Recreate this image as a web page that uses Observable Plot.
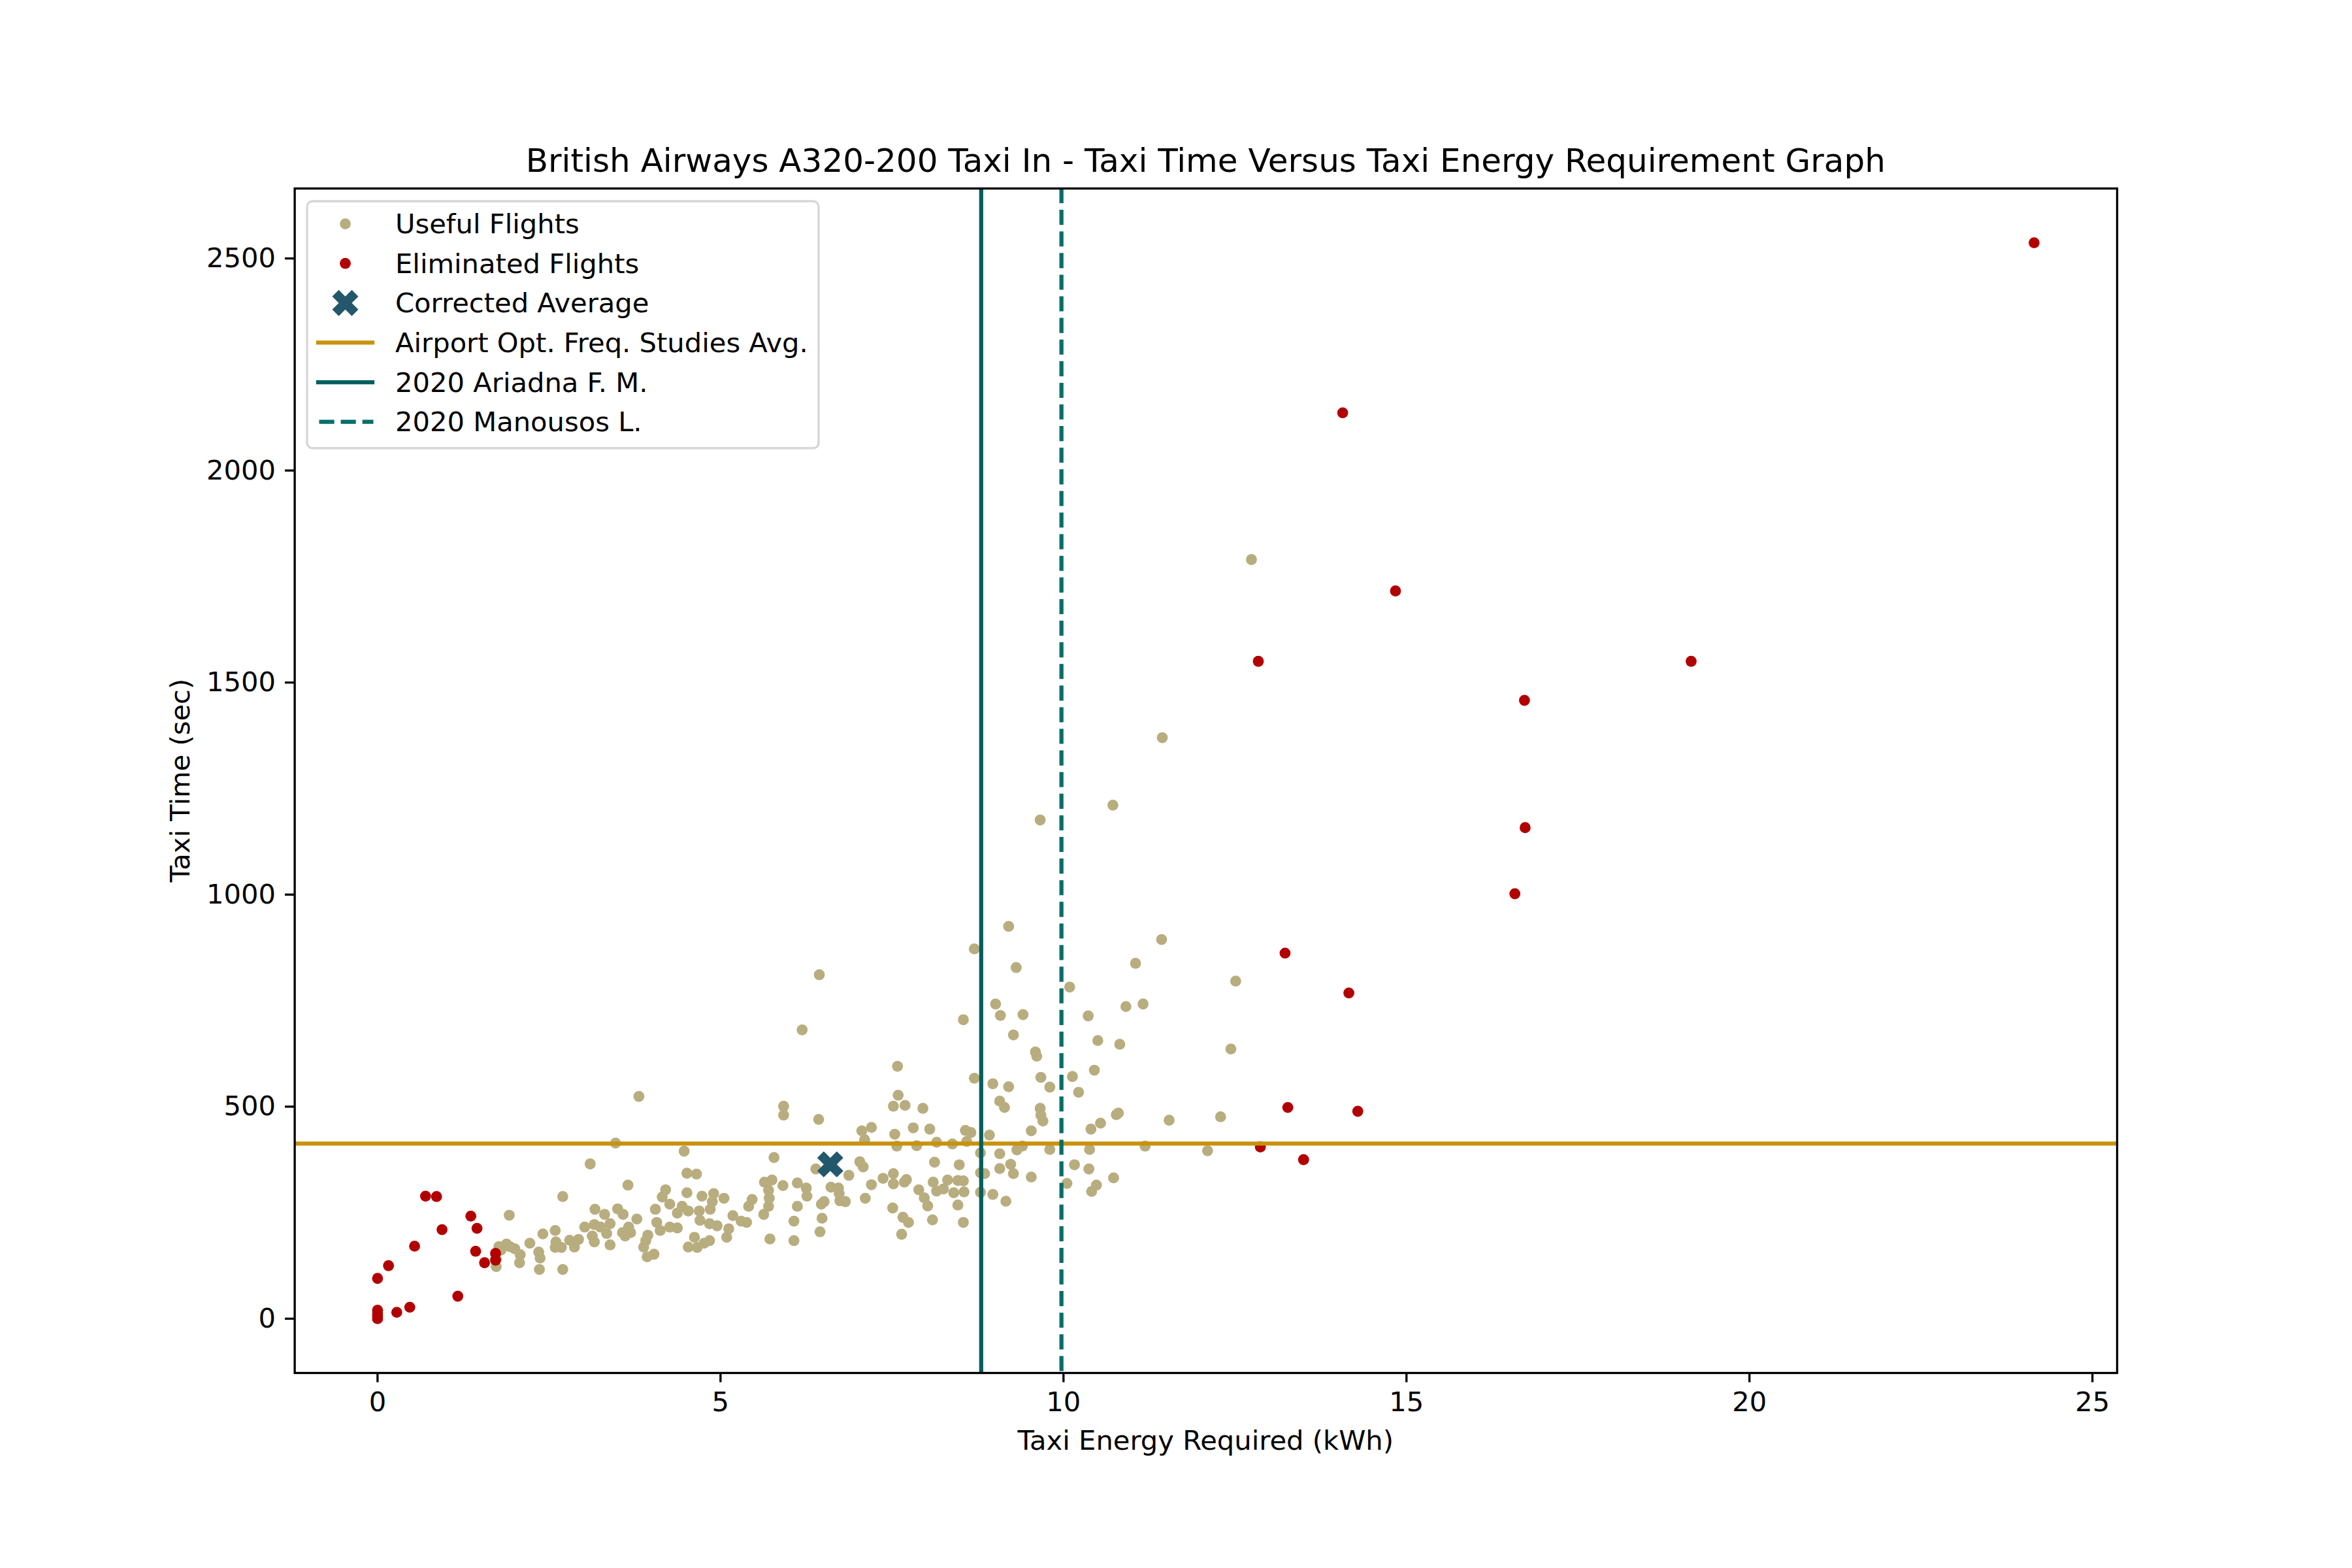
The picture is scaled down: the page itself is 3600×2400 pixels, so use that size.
<!DOCTYPE html>
<html>
<head>
<meta charset="utf-8">
<script src="https://cdn.jsdelivr.net/npm/d3@7"></script>
<script src="https://cdn.jsdelivr.net/npm/@observablehq/plot@0.6"></script>
<style>
  html, body { margin: 0; padding: 0; background: #ffffff; }
  #chart svg { display: block; }
</style>
</head>
<body>
<div id="chart"></div>
<script>
// ---------------- data ----------------
const titleText = "British Airways A320-200 Taxi In - Taxi Time Versus Taxi Energy Requirement Graph";
const xLabel = "Taxi Energy Required (kWh)";
const yLabel = "Taxi Time (sec)";
const xTicks = [0, 5, 10, 15, 20, 25];
const yTicks = [0, 500, 1000, 1500, 2000, 2500];
const legendLabels = ["Useful Flights", "Eliminated Flights", "Corrected Average",
  "Airport Opt. Freq. Studies Avg.", "2020 Ariadna F. M.", "2020 Manousos L."];

const usefulEnergy = [
  3.81,3.47,3.10,3.65,2.70,1.92,4.47,4.51,4.65,4.51,4.20,4.15,4.26,4.05,3.78,3.50,3.58,3.31,3.17,3.02,
  3.16,3.25,3.39,3.34,3.13,3.16,3.39,3.66,3.57,3.61,3.69,3.94,3.91,3.88,4.03,3.93,4.07,4.12,4.26,4.37,
  4.37,4.44,4.53,4.69,4.70,4.84,4.95,4.73,4.90,4.88,5.05,4.85,5.18,5.30,5.38,5.12,5.09,4.62,4.84,4.76,
  4.66,4.53,5.41,5.46,5.63,5.70,5.71,5.70,5.64,5.75,5.78,5.92,5.92,6.43,5.91,5.72,6.07,6.07,6.12,6.12,
  6.25,6.26,6.39,6.48,6.45,6.47,6.51,6.61,6.72,6.73,6.74,6.82,6.87,7.03,7.08,7.06,7.10,7.20,7.11,7.20,
  1.73,1.77,1.80,1.88,1.93,2.00,2.08,2.07,2.22,2.35,2.37,2.36,2.41,2.59,2.60,2.59,2.68,2.70,2.80,2.87,
  2.93,1.73,6.44,6.19,
  7.58,7.59,7.52,7.69,7.95,7.54,7.81,8.05,7.57,7.86,8.15,8.38,8.57,8.65,8.59,8.54,8.70,8.70,7.37,7.52,
  7.52,7.71,7.68,7.51,7.66,7.74,7.64,7.89,7.97,8.02,8.09,8.12,8.10,8.15,8.25,8.31,8.40,8.46,8.54,8.55,
  8.46,8.54,8.48,8.79,8.79,8.85,8.79,8.97,9.16,8.92,9.07,9.07,9.23,9.27,9.32,9.40,9.53,9.53,9.80,8.97,
  9.20,9.07,9.14,9.01,9.08,9.41,9.31,9.27,9.59,9.61,9.67,9.80,9.66,9.67,9.70,10.05,10.16,10.37,10.41,10.48,
  10.73,10.38,10.40,10.54,10.77,10.80,11.19,11.54,12.10,12.29,10.09,10.36,10.50,10.13,10.22,10.45,10.82,10.91,11.16,11.05,
  12.44,12.51,10.72,9.66,9.20,11.43,12.74,11.44
];
const usefulTime = [
  524,414,365,315,288,244,395,343,341,297,304,287,270,258,235,259,246,246,258,216,
  222,216,224,201,195,181,174,216,203,195,203,197,184,169,152,146,227,208,216,214,
  249,265,254,254,232,224,219,289,295,276,284,258,243,230,227,212,192,192,184,178,
  168,169,265,281,246,265,284,303,322,327,380,501,480,470,314,188,230,184,265,320,
  308,289,353,237,205,270,276,310,308,295,278,276,338,370,358,443,422,451,284,316,
  123,170,162,176,170,165,151,132,178,157,143,116,200,208,181,168,168,116,185,169,
  187,141,811,681,
  595,527,501,503,496,435,450,447,407,408,416,412,444,439,418,705,567,872,331,342,
  318,328,322,261,239,227,199,304,285,266,233,369,322,301,306,327,297,326,325,299,
  268,227,363,391,344,342,298,293,277,433,389,354,364,342,398,407,334,443,399,554,
  547,513,498,742,715,717,828,669,629,619,569,546,496,480,466,319,363,353,300,315,
  332,399,447,461,481,485,407,468,396,476,782,714,656,571,534,586,647,736,742,838,
  636,796,1211,1176,925,894,1790,1370
];

const eliminatedEnergy = [
  24.15,14.07,14.84,12.84,19.15,16.72,16.73,16.58,13.23,14.16,13.27,14.29,12.87,13.50,
  0,0.16,0,0,0,0,0.28,0.47,0.54,0.70,0.86,0.94,1.17,1.36,1.45,1.43,1.56,1.72,1.72
];
const eliminatedTime = [
  2537,2136,1716,1550,1550,1458,1158,1002,862,768,498,489,405,375,
  95,125,20,12,6,0,15,27,171,289,288,210,53,242,213,159,132,154,138
];

const correctedAvgEnergy = [6.60];
const correctedAvgTime = [364];
const airportOptFreqAvg = [413];
const ariadnaEnergy = [8.80];
const manousosEnergy = [9.97];

// ---------------- style ----------------
const C = {
  useful: "#b8ad7e",
  elim: "#b20000",
  avg: "#23576b",
  orange: "#c8920c",
  ariadna: "#045e5e",
  manousos: "#006e6a"
};
const FS = 41.67;

const useful = usefulEnergy.map((e, i) => ({energy: e, time: usefulTime[i]}));
const eliminated = eliminatedEnergy.map((e, i) => ({energy: e, time: eliminatedTime[i]}));
const corrected = correctedAvgEnergy.map((e, i) => ({energy: e, time: correctedAvgTime[i]}));

// matplotlib-like filled "X" marker
const xFilled = {
  draw(context, size) {
    const M = 2 * Math.sqrt(size / Math.PI);
    const pts = [[-1,-3],[1,-3],[1,-1],[3,-1],[3,1],[1,1],[1,3],[-1,3],[-1,1],[-3,1],[-3,-1],[-1,-1]];
    const c = Math.SQRT1_2;
    pts.forEach(([a, b], i) => {
      const px = (a * c - b * c) / 6 * M, py = (a * c + b * c) / 6 * M;
      if (i) context.lineTo(px, py); else context.moveTo(px, py);
    });
    context.closePath();
  }
};

const W = 3600, H = 2400;
const mL = 450.6, mR = 360, mT = 288, mB = 299;

const chart = Plot.plot({
  width: W, height: H,
  marginLeft: mL, marginRight: mR, marginTop: mT, marginBottom: mB,
  x: {domain: [-1.2075, 25.36]},
  y: {domain: [-128, 2665]},
  style: {fontFamily: "DejaVu Sans", fontSize: FS + "px", background: "white", color: "black"},
  marks: [
    Plot.dot(useful, {x: "energy", y: "time", r: 8.4, fill: C.useful}),
    Plot.dot(eliminated, {x: "energy", y: "time", r: 8.4, fill: C.elim}),
    Plot.dot(corrected, {x: "energy", y: "time", r: 21.2, symbol: xFilled, fill: C.avg}),
    Plot.ruleY(airportOptFreqAvg, {stroke: C.orange, strokeWidth: 6.25}),
    Plot.ruleX(ariadnaEnergy, {stroke: C.ariadna, strokeWidth: 6.25}),
    Plot.ruleX(manousosEnergy, {stroke: C.manousos, strokeWidth: 6.25, strokeDasharray: "23.1 10"}),
    Plot.frame({stroke: "black", strokeWidth: 3.33}),
    Plot.axisX({ticks: xTicks, tickFormat: d => String(d), tickSize: 14.6, tickPadding: 14.6,
      strokeWidth: 3.33, fontSize: FS, label: null}),
    Plot.axisY({ticks: yTicks, tickFormat: d => String(d), tickSize: 14.6, tickPadding: 14.6,
      strokeWidth: 3.33, fontSize: FS, label: null})
  ]
});

document.getElementById("chart").appendChild(chart);

// ---------------- title, axis labels, legend ----------------
const svg = d3.select(chart);
const cx = mL + (W - mL - mR) / 2;
const cy = mT + (H - mT - mB) / 2;
const txt = svg.append("g").attr("font-family", "DejaVu Sans").attr("fill", "black").attr("text-anchor", "middle");
txt.append("text").attr("x", cx).attr("y", 263).attr("font-size", 50).text(titleText);
txt.append("text").attr("x", cx).attr("y", 2219).attr("font-size", FS).text(xLabel);
txt.append("text").attr("transform", `translate(290,${cy}) rotate(-90)`)
  .attr("font-size", FS).text(yLabel);

const lg = svg.append("g").attr("font-family", "DejaVu Sans").attr("font-size", FS)
  .attr("text-anchor", "start").attr("fill", "black");
lg.append("rect").attr("x", 470).attr("y", 308).attr("width", 783).attr("height", 378)
  .attr("rx", 8.3).attr("ry", 8.3)
  .attr("fill", "white").attr("fill-opacity", 0.8)
  .attr("stroke", "#cccccc").attr("stroke-opacity", 0.8).attr("stroke-width", 3.33);
const rowY = i => 342.6 + i * 60.6;
const hx0 = 487, hx1 = 570, hmid = (hx0 + hx1) / 2;
legendLabels.forEach((label, i) => {
  const y = rowY(i);
  if (i === 0) lg.append("circle").attr("cx", hmid).attr("cy", y).attr("r", 8.4).attr("fill", C.useful);
  if (i === 1) lg.append("circle").attr("cx", hmid).attr("cy", y).attr("r", 8.4).attr("fill", C.elim);
  if (i === 2) lg.append("path").attr("transform", `translate(${hmid},${y})`)
    .attr("d", d3.symbol(xFilled, Math.PI * 21.2 * 21.2)()).attr("fill", C.avg);
  if (i === 3) lg.append("line").attr("x1", hx0).attr("x2", hx1).attr("y1", y).attr("y2", y)
    .attr("stroke", C.orange).attr("stroke-width", 6.25).attr("stroke-linecap", "square");
  if (i === 4) lg.append("line").attr("x1", hx0).attr("x2", hx1).attr("y1", y).attr("y2", y)
    .attr("stroke", C.ariadna).attr("stroke-width", 6.25).attr("stroke-linecap", "square");
  if (i === 5) lg.append("line").attr("x1", hx0 + 1.5).attr("x2", hx1 + 1.5).attr("y1", y).attr("y2", y)
    .attr("stroke", C.manousos).attr("stroke-width", 6.25).attr("stroke-dasharray", "23.1 10");
  lg.append("text").attr("x", 605).attr("y", y).attr("dy", "0.35em").attr("fill", "black").text(label);
});
</script>
</body>
</html>
